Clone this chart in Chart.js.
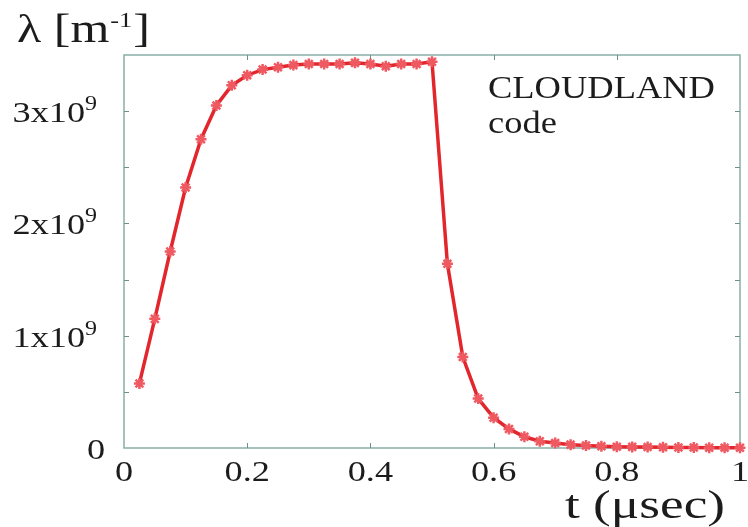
<!DOCTYPE html>
<html>
<head>
<meta charset="utf-8">
<script src="https://cdn.jsdelivr.net/npm/chart.js@4.4.1/dist/chart.umd.min.js"></script>
<style>
  html, body { margin: 0; padding: 0; background: #fff; }
  #wrap { width: 748px; height: 527px; }
</style>
</head>
<body>
<div id="wrap"><canvas id="c" width="748" height="527"></canvas></div>
<script>
// time (µsec)
const tValues = [0.025, 0.05, 0.075, 0.1, 0.125, 0.15, 0.175, 0.2, 0.225, 0.25,
    0.275, 0.3, 0.325, 0.35, 0.375, 0.4, 0.425, 0.45, 0.475, 0.5,
    0.525, 0.55, 0.575, 0.6, 0.625, 0.65, 0.675, 0.7, 0.725, 0.75,
    0.775, 0.8, 0.825, 0.85, 0.875, 0.9, 0.925, 0.95, 0.975, 1.0];
// lambda in units of 1e9 m^-1
const lambdaE9 = [0.575, 1.15, 1.75, 2.32, 2.75, 3.05, 3.23, 3.32, 3.37, 3.39,
    3.41, 3.42, 3.42, 3.42, 3.43, 3.42, 3.40, 3.42, 3.42, 3.44,
    1.64, 0.81, 0.44, 0.27, 0.17, 0.10, 0.06, 0.045, 0.03, 0.022,
    0.016, 0.012, 0.01, 0.008, 0.006, 0.005, 0.004, 0.003, 0.003, 0.002];

const xTicks = [0, 0.2, 0.4, 0.6, 0.8, 1];
const xTickLabels = ['0', '0.2', '0.4', '0.6', '0.8', '1'];
const xInnerTicks = [0.2, 0.4, 0.6, 0.8];
const yTicks = [0, 1e9, 2e9, 3e9];
const yTickLabels = ['0', '1x10', '2x10', '3x10'];
const yTickExp = ['', '9', '9', '9'];
const yInnerTicks = [0.5e9, 1e9, 1.5e9, 2e9, 2.5e9, 3e9];

const FONT = '"Liberation Serif", "Times New Roman", serif';
const TEXT = '#1c1c1c';
const AXIS = '#88aea6';

function txt(ctx, s, x, y, size, align, sx) {
    ctx.save();
    ctx.font = size + 'px ' + FONT;
    ctx.fillStyle = TEXT;
    ctx.textBaseline = 'alphabetic';
    ctx.translate(x, y);
    ctx.scale(sx, 1);
    ctx.textAlign = align;
    ctx.fillText(s, 0, 0);
    ctx.restore();
}

function txtWidth(ctx, s, size, sx) {
    ctx.save();
    ctx.font = size + 'px ' + FONT;
    const w = ctx.measureText(s).width * sx;
    ctx.restore();
    return w;
}

const framePlugin = {
    id: 'frame',
    beforeDatasetsDraw(chart) {
        const { ctx, chartArea: a, scales: { x, y } } = chart;
        ctx.save();
        ctx.strokeStyle = AXIS;
        ctx.lineWidth = 1.5;
        ctx.strokeRect(a.left, a.top, a.right - a.left, a.bottom - a.top);
        ctx.strokeStyle = '#6f8f89';
        ctx.lineWidth = 1;
        ctx.beginPath();
        xInnerTicks.forEach((v) => {
            const px = Math.round(x.getPixelForValue(v)) + 0.5;
            ctx.moveTo(px, a.bottom); ctx.lineTo(px, a.bottom - 5);
            ctx.moveTo(px, a.top); ctx.lineTo(px, a.top + 5);
        });
        yInnerTicks.forEach((v) => {
            const py = Math.round(y.getPixelForValue(v)) + 0.5;
            ctx.moveTo(a.left, py); ctx.lineTo(a.left + 5, py);
            ctx.moveTo(a.right, py); ctx.lineTo(a.right - 5, py);
        });
        ctx.stroke();
        ctx.restore();
    },
    afterDraw(chart) {
        const { ctx, scales: { x, y } } = chart;
        // x tick labels
        xTicks.forEach((v, i) => {
            txt(ctx, xTickLabels[i], x.getPixelForValue(v), 481, 29, 'center', 1.25);
        });
        // y tick labels with exponent
        yTicks.forEach((v, i) => {
            const base = y.getPixelForValue(v) + 11;
            if (!yTickExp[i]) {
                txt(ctx, yTickLabels[i], 105, base, 29, 'right', 1.25);
                return;
            }
            const ew = txtWidth(ctx, yTickExp[i], 20, 1.2);
            txt(ctx, yTickExp[i], 97, base - 12, 20, 'right', 1.2);
            txt(ctx, yTickLabels[i], 97 - ew, base, 29, 'right', 1.25);
        });
        // y axis title: λ [m^-1]
        let cx = 17;
        const s1 = 'λ [m';
        txt(ctx, s1, cx, 42, 40, 'left', 1.25);
        cx += txtWidth(ctx, s1, 40, 1.25) + 1;
        txt(ctx, '-1', cx, 27, 22, 'left', 1.2);
        cx += txtWidth(ctx, '-1', 22, 1.2) + 1;
        txt(ctx, ']', cx, 42, 40, 'left', 1.25);
        // x axis title
        txt(ctx, 't (μsec)', 565, 518, 40, 'left', 1.33);
        // annotation
        txt(ctx, 'CLOUDLAND', 488, 98, 32, 'left', 1.14);
        txt(ctx, 'code', 488, 133, 32, 'left', 1.14);
    }
};

new Chart(document.getElementById('c'), {
    type: 'line',
    data: {
        datasets: [{
            data: tValues.map((t, i) => ({ x: t, y: lambdaE9[i] * 1e9 })),
            borderColor: '#e2262c',
            borderWidth: 3.5,
            tension: 0,
            pointStyle: 'star',
            pointRadius: 5.5,
            pointBorderWidth: 2.5,
            pointBorderColor: '#ef5a62',
            pointBackgroundColor: '#ef5a62',
            clip: false
        }]
    },
    options: {
        responsive: false,
        animation: false,
        layout: { padding: { left: 124, right: 6, top: 55, bottom: 79 } },
        scales: {
            x: { type: 'linear', min: 0, max: 1, display: false },
            y: { type: 'linear', min: 0, max: 3.5e9, display: false }
        },
        plugins: { legend: { display: false }, tooltip: { enabled: false } }
    },
    plugins: [framePlugin]
});
</script>
</body>
</html>
